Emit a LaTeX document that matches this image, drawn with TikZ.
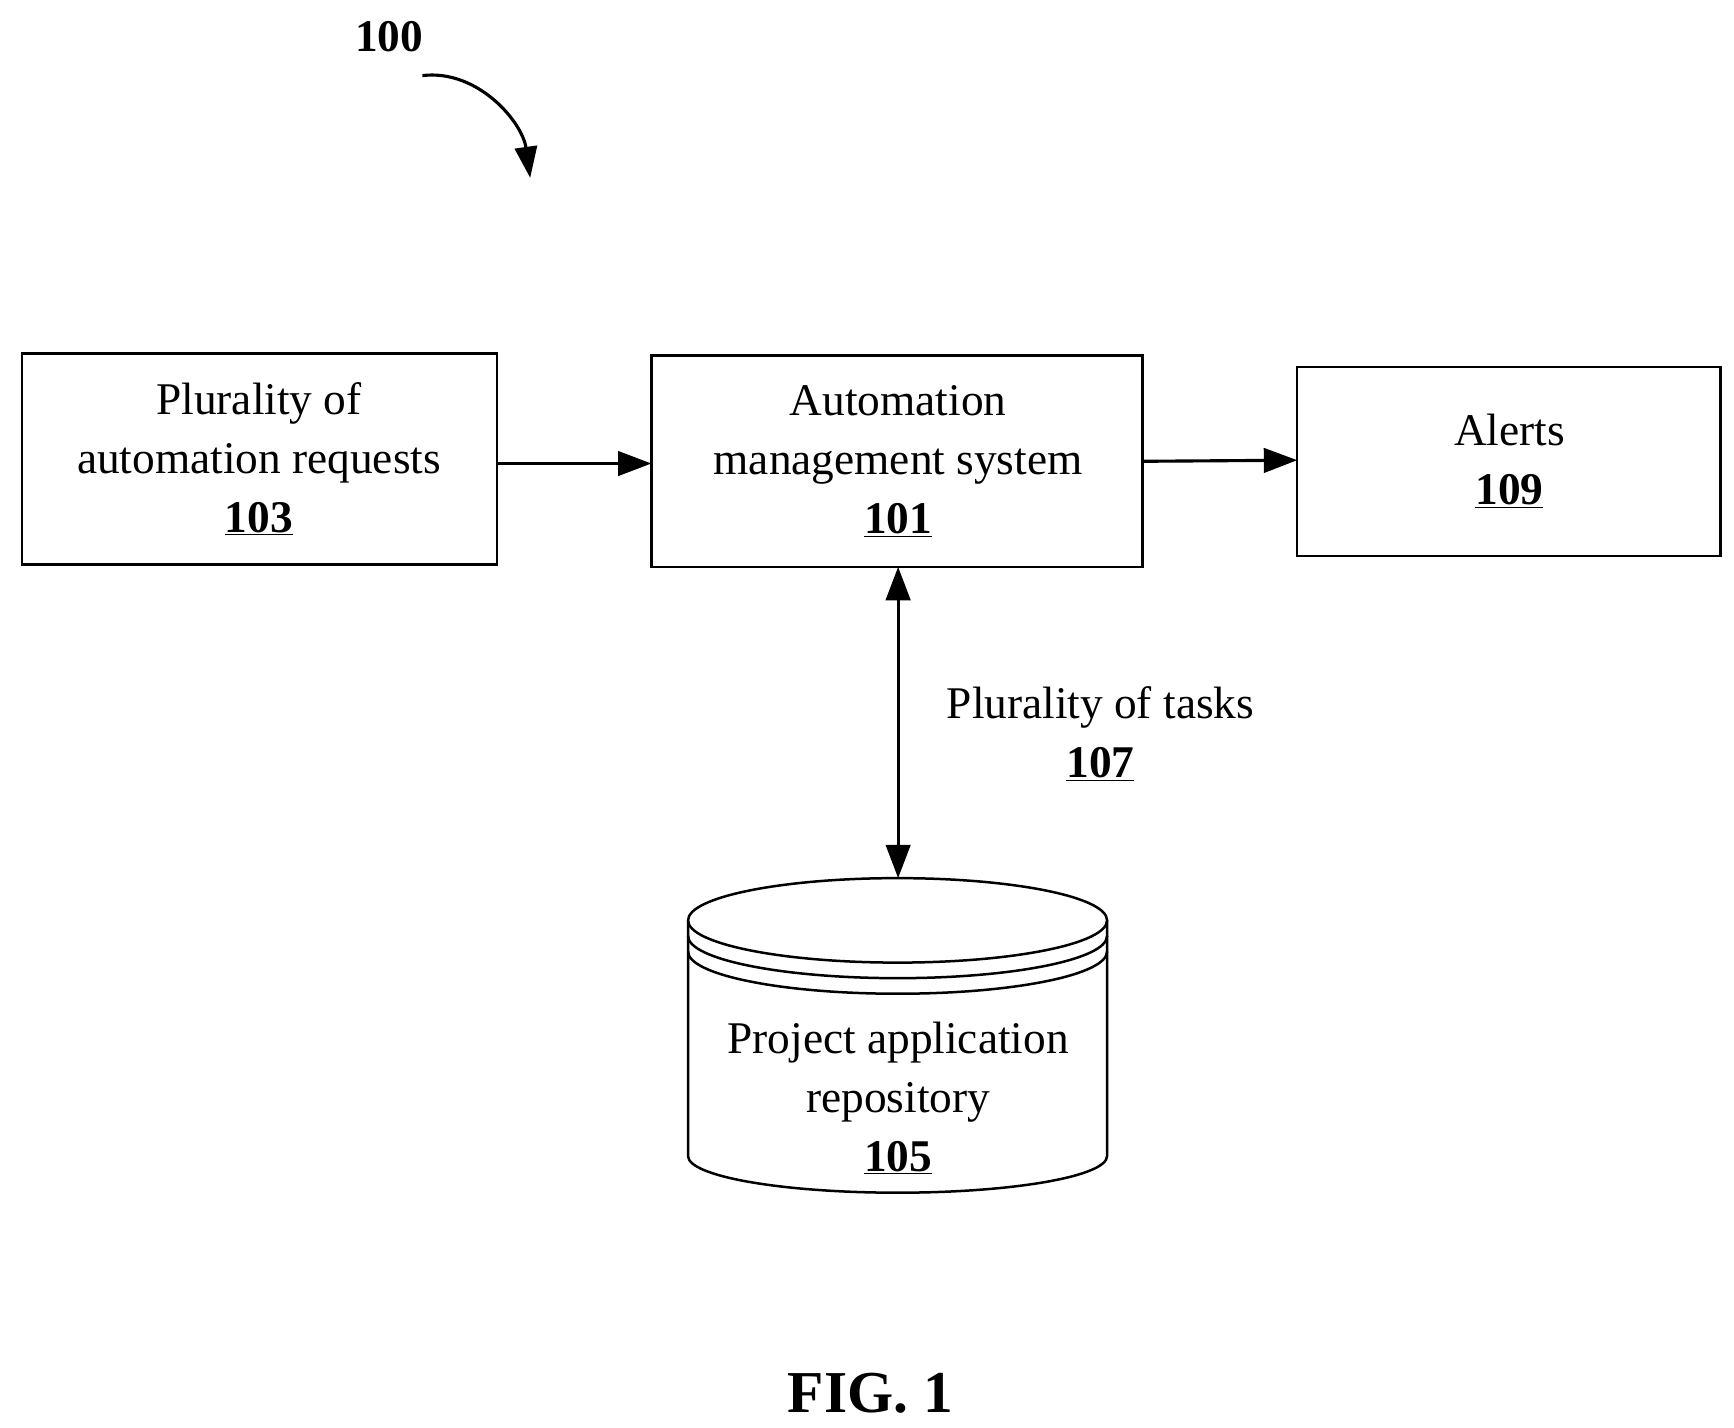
\documentclass[tikz,border=0pt]{standalone}
\usepackage{fontspec}
\setmainfont{Liberation Serif}
\usetikzlibrary{arrows.meta,shapes.geometric}
\begin{document}
\begin{tikzpicture}[x=0.025cm,y=-0.025cm,
  lbl/.style={font=\fontsize{29}{37.7}\selectfont,align=center,inner sep=0pt},
  arr/.style={line width=2pt,-{Triangle[length=0.75cm,width=0.55cm]}},
  every node/.style={inner sep=0pt}]
\useasboundingbox (0,0) rectangle (1560,1284);
\draw[line width=1.6pt] (20,318) rectangle (447,508);
\draw[line width=1.6pt] (586,320) rectangle (1028,510);
\draw[line width=1.6pt] (1167,330) rectangle (1548,500);
\node[lbl] (b103) at (233,413) {Plurality of\\automation requests\\\textbf{\underline{103}}};
\node[lbl] (b101) at (808,415) {Automation\\management system\\\textbf{\underline{101}}};
\node[lbl] (b109) at (1358,415) {Alerts\\\textbf{\underline{109}}};
\coordinate (a1) at (447,417); \coordinate (a2) at (586,417);
\coordinate (c1) at (1028,415); \coordinate (c2) at (1167,414);
\coordinate (d1) at (808,510); \coordinate (d2) at (808,790);
\draw[arr] (a1) -- (a2);
\draw[arr] (c1) -- (c2);
\draw[arr,{Triangle[length=0.75cm,width=0.55cm]}-{Triangle[length=0.75cm,width=0.55cm]}] (d1) -- (d2);
% cylinder
\draw[line width=1.6pt] (619,828) -- (619,1040) arc[start angle=180,end angle=0,x radius=188.5,y radius=33] -- (996,828);
\draw[line width=1.6pt] (807.5,828) ellipse[x radius=188.5,y radius=38];
\draw[line width=1.6pt] (619,842) arc[start angle=180,end angle=0,x radius=188.5,y radius=38];
\draw[line width=1.6pt] (619,856) arc[start angle=180,end angle=0,x radius=188.5,y radius=38];
\node[lbl] (db) at (808,988) {Project application\\repository\\\textbf{\underline{105}}};
\node[lbl] (t107) at (990,660) {Plurality of tasks\\\textbf{\underline{107}}};
\node[font=\fontsize{29}{30}\selectfont\bfseries] (n100) at (350,33) {100};
\coordinate (e1) at (380,68);
\coordinate (e2) at (477,160);
\draw[line width=2pt,-{Triangle[length=0.7cm,width=0.5cm]}] (e1) .. controls (430,62) and (470,110) .. (e2);
\node[font=\fontsize{38}{40}\selectfont\bfseries] (fig) at (783,1253) {FIG. 1};
\end{tikzpicture}
\end{document}
